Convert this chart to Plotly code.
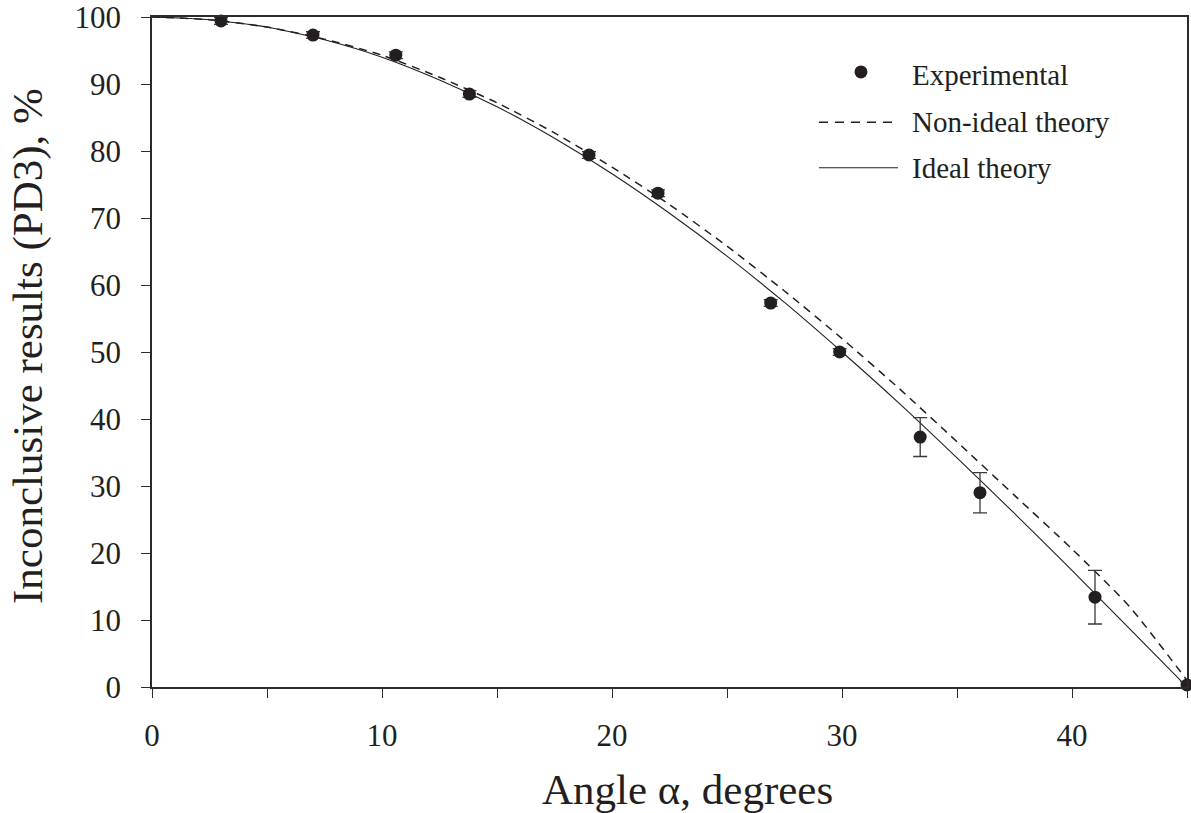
import plotly.graph_objects as go

# ---- data ----
exp_angle = [3.0, 7.0, 10.6, 13.8, 19.0, 22.0, 26.9, 29.9, 33.4, 36.0, 41.0, 45.0]
exp_value = [99.4, 97.3, 94.3, 88.5, 79.4, 73.7, 57.3, 50.0, 37.3, 29.0, 13.4, 0.3]
exp_error = [0.5, 0.5, 0.5, 0.5, 0.5, 0.5, 0.5, 0.5, 2.9, 3.0, 4.0, 0.5]

theory_angle = [0, 2.5, 5, 7.5, 10, 12.5, 15, 17.5, 20, 22.5, 25, 27.5, 30,
                32.5, 35, 37.5, 40, 42.5, 45]
ideal_value = [100, 99.6, 98.5, 96.6, 94.0, 90.6, 86.6, 81.9, 76.6, 70.7, 64.3,
               57.4, 50.0, 42.3, 34.2, 25.9, 17.4, 8.7, 0.0]
nonideal_value = [100, 99.6, 98.5, 96.7, 94.3, 91.0, 87.2, 82.7, 77.6, 72.0, 65.8,
                  59.1, 52.0, 44.5, 36.6, 28.6, 20.6, 12.0, 1.0]

legend_labels = ["Experimental", "Non-ideal theory", "Ideal theory"]
x_title = "Angle \u03b1, degrees"
y_title = "Inconclusive results (PD3), %"
x_tickvals = [0, 10, 20, 30, 40]
y_tickvals = [0, 10, 20, 30, 40, 50, 60, 70, 80, 90, 100]

FONT = "Liberation Serif, Times New Roman, serif"
INK = "#231f20"

fig = go.Figure()

fig.add_trace(go.Scatter(
    x=theory_angle, y=ideal_value, mode="lines", name=legend_labels[2],
    line=dict(color=INK, width=1.1, shape="spline", smoothing=0.6),
    showlegend=False, hoverinfo="skip", cliponaxis=False))

fig.add_trace(go.Scatter(
    x=theory_angle, y=nonideal_value, mode="lines", name=legend_labels[1],
    line=dict(color=INK, width=1.5, dash="8px,6px", shape="spline", smoothing=0.6),
    showlegend=False, hoverinfo="skip", cliponaxis=False))

fig.add_trace(go.Scatter(
    x=exp_angle, y=exp_value, mode="markers", name=legend_labels[0],
    marker=dict(color=INK, size=13, line=dict(width=0)),
    error_y=dict(type="data", array=exp_error, visible=True, color="#3a3a3a",
                 thickness=1.3, width=7),
    showlegend=False, cliponaxis=False))

# custom legend (layout decoration)
fig.add_shape(type="circle", xref="paper", yref="paper",
              xsizemode="pixel", ysizemode="pixel",
              xanchor=0.685, yanchor=0.918, x0=-6.5, x1=6.5, y0=-6.5, y1=6.5,
              fillcolor=INK, line=dict(width=0))
fig.add_shape(type="line", xref="paper", yref="paper",
              x0=0.6444, x1=0.7208, y0=0.843, y1=0.843,
              line=dict(color=INK, width=1.5, dash="9px,7px"))
fig.add_shape(type="line", xref="paper", yref="paper",
              x0=0.6444, x1=0.7208, y0=0.775, y1=0.775,
              line=dict(color=INK, width=1.1))
for label, yp in zip(legend_labels, [0.913, 0.843, 0.775]):
    fig.add_annotation(text=label, xref="paper", yref="paper", x=0.7324, y=yp,
                       xanchor="left", yanchor="middle", showarrow=False,
                       font=dict(family=FONT, size=29, color=INK))

# axis titles placed as in the reference
fig.add_annotation(text=x_title, xref="paper", yref="paper", x=0.5174, y=-0.1537,
                   xanchor="center", yanchor="middle", showarrow=False,
                   font=dict(family=FONT, size=43, color=INK))
fig.add_annotation(text=y_title, xref="paper", yref="paper", x=-0.1198, y=0.509,
                   xanchor="center", yanchor="middle", showarrow=False, textangle=-90,
                   font=dict(family=FONT, size=43, color=INK))

axis_common = dict(
    showgrid=False, zeroline=False, showline=True, mirror=True, automargin=False,
    linecolor="#2b2b2b", linewidth=1.5, ticks="outside", tickcolor="#2b2b2b",
    tickwidth=1.3, ticklen=9, tickfont=dict(family=FONT, size=31, color=INK),
    ticklabeloverflow="allow",
)

fig.update_xaxes(
    range=[0, 45], tickvals=x_tickvals, ticklabelstandoff=11,
    minor=dict(dtick=5, tick0=0, ticks="outside", ticklen=9, tickwidth=1.3,
               tickcolor="#2b2b2b"),
    **axis_common)
fig.update_yaxes(
    range=[0, 100], tickvals=y_tickvals, ticklabelstandoff=14,
    **axis_common)

fig.update_layout(
    width=1191, height=813,
    margin=dict(l=152, r=4, t=17, b=126),
    paper_bgcolor="white", plot_bgcolor="white",
    showlegend=False,
)

fig.write_html("out.html", config={"displayModeBar": False},
               post_script="document.body.style.margin='0';document.body.style.overflow='hidden';")
